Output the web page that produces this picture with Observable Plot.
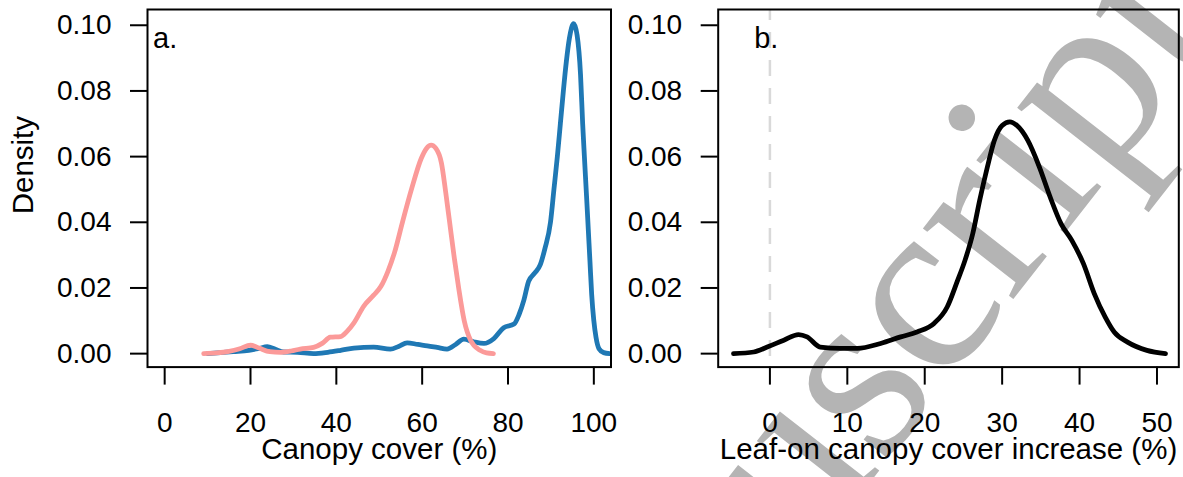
<!DOCTYPE html>
<html><head><meta charset="utf-8">
<script src="https://cdn.jsdelivr.net/npm/d3@7"></script>
<script src="https://cdn.jsdelivr.net/npm/@observablehq/plot@0.6"></script>
<style>
html,body{margin:0;padding:0;background:#fff;}
#root{position:relative;width:1183px;height:477px;overflow:hidden;background:#fff;}
#wm{position:absolute;left:0;top:0;}
#pa{position:absolute;left:0;top:0;}
#pb{position:absolute;left:600px;top:0;}
#root svg g[aria-label*="axis"] line, #root svg g[aria-label*="axis"] path{stroke-width:2px;}
</style></head><body>
<div id="root">
<svg id="wm" width="1183" height="477"><text transform="translate(1224,29.5) rotate(-52)" text-anchor="end" font-family="'Liberation Serif','Times New Roman',serif" font-size="250" fill="#b4b4b4">Manuscript</text></svg>
<div id="pa"></div><div id="pb"></div>
</div>
<script>
// Panel a: canopy cover density (pink = leaf-off, blue = leaf-on)
const leafOffX = [9.1,12,15,17.5,20,22,24.5,27,29.5,31.6,34.7,36.8,38.6,41,42.5,44.1,46.4,48.7,50.4,52,53.6,55.4,57.5,59.8,61,62.1,63.2,64.5,65.5,66.4,67.5,68.5,69.8,71.3,73.5,75,76.6];
const leafOffY = [0,0.0002,0.0007,0.0015,0.0026,0.0017,0.0006,0.0004,0.0008,0.0014,0.0019,0.0032,0.005,0.0052,0.0068,0.0094,0.0145,0.0178,0.0205,0.025,0.031,0.04,0.05,0.0595,0.0625,0.0635,0.0625,0.058,0.049,0.04,0.029,0.02,0.01,0.004,0.001,0.0002,0];
const leafOnX = [10,13,16,19.6,22,23.9,25.8,27.7,31,34.7,38,41,44.1,48.7,52.6,54.5,56.5,59,61.2,63.5,65.8,67.8,69.7,72,74.4,76.7,79,81.4,82.6,83.7,84.8,86.2,87.5,88.6,89.9,90.7,91.5,92.2,92.9,93.6,94.3,95.3,96.1,96.9,97.4,97.8,98.3,98.7,99.1,99.5,100,100.5,101.2,102.3,103.7];
const leafOnY = [0,0.0003,0.0006,0.001,0.0016,0.0021,0.0013,0.0005,0.0004,0,0.0004,0.001,0.0017,0.002,0.0014,0.0022,0.0033,0.0028,0.0024,0.0019,0.0014,0.0028,0.0044,0.0036,0.0031,0.0046,0.0079,0.009,0.012,0.0163,0.022,0.0245,0.027,0.032,0.04,0.05,0.06,0.07,0.08,0.089,0.096,0.1005,0.097,0.085,0.07,0.06,0.048,0.038,0.028,0.018,0.01,0.005,0.0015,0.0003,0];
// Panel b: leaf-on canopy cover increase density
const increaseX = [-4.7,-2.1,-0.35,1.8,3.7,4.8,6.5,9.1,11.3,14.3,16.9,19,21.2,22.9,24.2,25.2,26.2,27.1,28.1,29,30,31,31.9,33.3,34.8,36.2,37.6,39,40.5,41.9,43.3,44.5,46.2,48.7,51.1];
const increaseY = [0,0.0005,0.002,0.0041,0.0058,0.0051,0.002,0.0016,0.0016,0.0031,0.0051,0.0066,0.0092,0.0142,0.022,0.0284,0.0365,0.0467,0.0569,0.065,0.0695,0.0706,0.0695,0.065,0.0569,0.0477,0.0396,0.0345,0.0274,0.0183,0.0112,0.0065,0.0035,0.001,0];
const xTicksA = [0,20,40,60,80,100];
const xTicksB = [0,10,20,30,40,50];
const yTicks = [0,0.02,0.04,0.06,0.08,0.10];
const refLineB = [0];

const zip = (xs, ys) => xs.map((x, i) => ({x, y: ys[i]}));
const leafOff = zip(leafOffX, leafOffY);
const leafOn = zip(leafOnX, leafOnY);
const increase = zip(increaseX, increaseY);

const font = '"Liberation Sans", Arial, Helvetica, sans-serif';
const common = {
  height: 477,
  marginTop: 9,
  marginBottom: 110.4,
  style: {fontFamily: font, fontSize: "28px", background: "transparent", overflow: "visible", color: "#000"},
  y: {domain: [-0.0041, 0.1048], ticks: yTicks, tickFormat: d3.format(".2f"), tickSize: 17, tickPadding: 19, label: null}
};

const a = Plot.plot({
  ...common,
  width: 640,
  marginLeft: 147,
  marginRight: 29.5,
  x: {domain: [-4, 104], ticks: xTicksA, tickSize: 18, tickPadding: 27, label: null},
  marks: [
    Plot.line(leafOn, {x: "x", y: "y", stroke: "#1f78b4", strokeWidth: 4.8, curve: "monotone-x", clip: true}),
    Plot.line(leafOff, {x: "x", y: "y", stroke: "#fb9a99", strokeWidth: 4.8, curve: "monotone-x", clip: true}),
    Plot.frame({stroke: "#000", strokeWidth: 2}),
    Plot.text(["a."], {frameAnchor: "top-left", textAnchor: "start", dx: 5.5, dy: 17.5, fontSize: 29}),
    Plot.text(["Canopy cover (%)"], {frameAnchor: "bottom", dy: 91.5, fontSize: 29.5}),
    Plot.text(["Density"], {frameAnchor: "left", rotate: -90, dx: -123.5, dy: 26, fontSize: 29.5})
  ]
});
document.getElementById("pa").appendChild(a);

const b = Plot.plot({
  ...common,
  width: 583,
  marginLeft: 117.7,
  marginRight: 4.7,
  x: {domain: [-6.68, 52.82], ticks: xTicksB, tickSize: 18, tickPadding: 27, label: null},
  marks: [
    Plot.ruleX(refLineB, {stroke: "#d9d9d9", strokeWidth: 2.5, strokeDasharray: "16,12", strokeDashoffset: 5}),
    Plot.line(increase, {x: "x", y: "y", stroke: "#000", strokeWidth: 4.8, curve: "monotone-x", clip: true}),
    Plot.frame({stroke: "#000", strokeWidth: 2}),
    Plot.text(["b."], {frameAnchor: "top-left", textAnchor: "start", dx: 36, dy: 17.5, fontSize: 29}),
    Plot.text(["Leaf-on canopy cover increase (%)"], {frameAnchor: "bottom", dy: 91.5, fontSize: 29.5})
  ]
});
document.getElementById("pb").appendChild(b);
</script>
</body></html>
